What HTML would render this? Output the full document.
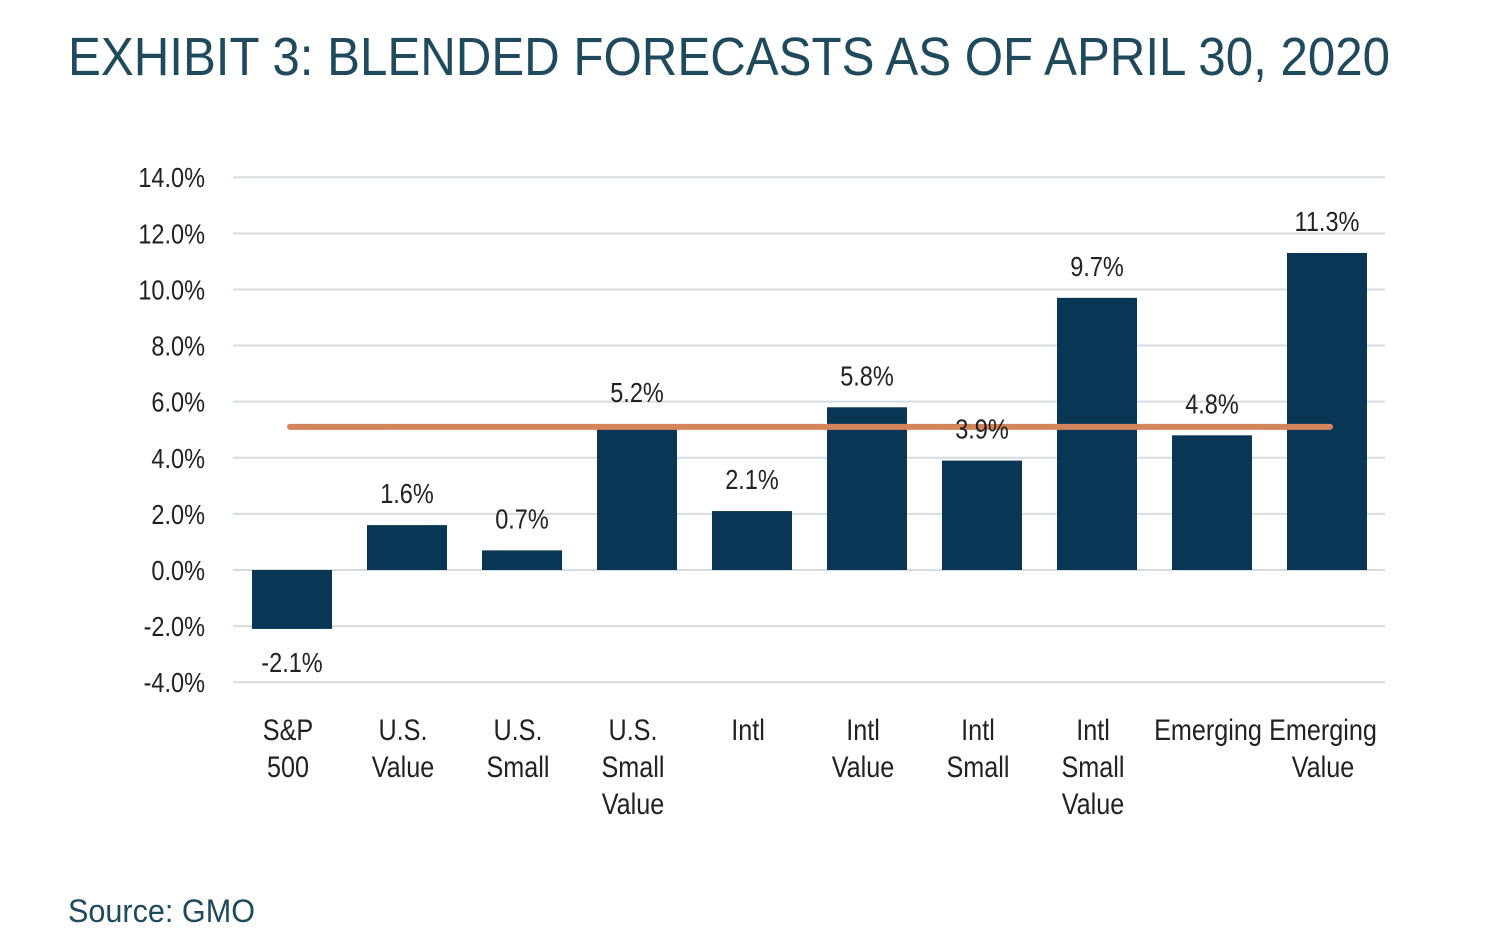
<!DOCTYPE html>
<html><head><meta charset="utf-8"><style>
body{margin:0;background:#fff;}
svg{display:block;font-family:"Liberation Sans Narrow","Liberation Sans",sans-serif;}
</style></head><body>
<svg id="chart" width="1506" height="950">
<text x="68" y="75" font-size="54" fill="#1f4a5e" textLength="1322" lengthAdjust="spacingAndGlyphs">EXHIBIT 3: BLENDED FORECASTS AS OF APRIL 30, 2020</text>
<g id="grid"></g><g id="bars"></g><g id="labels"></g>
<text x="68" y="922" font-size="32" fill="#1f4a5e" textLength="187" lengthAdjust="spacingAndGlyphs">Source: GMO</text>
</svg>
<script>
const categories=[["S&P","500"],["U.S.","Value"],["U.S.","Small"],["U.S.","Small","Value"],["Intl"],["Intl","Value"],["Intl","Small"],["Intl","Small","Value"],["Emerging"],["Emerging","Value"]];
const values=[-2.1,1.6,0.7,5.2,2.1,5.8,3.9,9.7,4.8,11.3];
const valueLabels=["-2.1%","1.6%","0.7%","5.2%","2.1%","5.8%","3.9%","9.7%","4.8%","11.3%"];
const ticks=[14,12,10,8,6,4,2,0,-2,-4];
const tickLabels=["14.0%","12.0%","10.0%","8.0%","6.0%","4.0%","2.0%","0.0%","-2.0%","-4.0%"];
const averageLine=[5.1];
const NS="http://www.w3.org/2000/svg";
const y=v=>570-v*(505/18);
const x=i=>292+i*115;
const SX=0.84;
function mk(tag,attrs,parent,text){const e=document.createElementNS(NS,tag);for(const k in attrs)e.setAttribute(k,attrs[k]);if(text!==undefined)e.textContent=text;parent.appendChild(e);return e;}
function cond(e,ax){e.setAttribute('transform',`translate(${ax},0) scale(${SX},1) translate(${-ax},0)`);}
const grid=document.getElementById('grid'),bars=document.getElementById('bars'),labels=document.getElementById('labels');
ticks.forEach((t,i)=>{
 const l=mk('line',{x1:233,x2:1385,y1:y(t),y2:y(t),stroke:'#d5dde0','stroke-width':2},grid);
 
 
 const tx=mk('text',{x:205,y:y(t)+10,'font-size':28,'text-anchor':'end',fill:'#222'},grid,tickLabels[i]);
 cond(tx,205);
 
 
});
values.forEach((v,i)=>{
 const top=Math.min(y(v),y(0)),h=Math.abs(y(v)-y(0));
 const r=mk('rect',{x:x(i)-40,y:top,width:80,height:h,fill:'#083654'},bars);
 
 
 const ly=v>=0?y(v)-22:y(v)+43;
 const t=mk('text',{x:x(i),y:ly,'font-size':28,'text-anchor':'middle',fill:'#222'},labels,valueLabels[i]);
 cond(t,x(i));
 
 
 categories[i].forEach((line,j)=>{
  const c=mk('text',{x:x(i)-4,y:740+j*37,'font-size':30,'text-anchor':'middle',fill:'#222'},labels,line);
  cond(c,x(i)-4);
  
  
 });
});
const avg=mk('line',{x1:x(0)-2,x2:x(values.length-1)+3,y1:y(averageLine[0]),y2:y(averageLine[0]),stroke:'#d4845a','stroke-width':6,'stroke-linecap':'round'},bars);


</script>
</body></html>
